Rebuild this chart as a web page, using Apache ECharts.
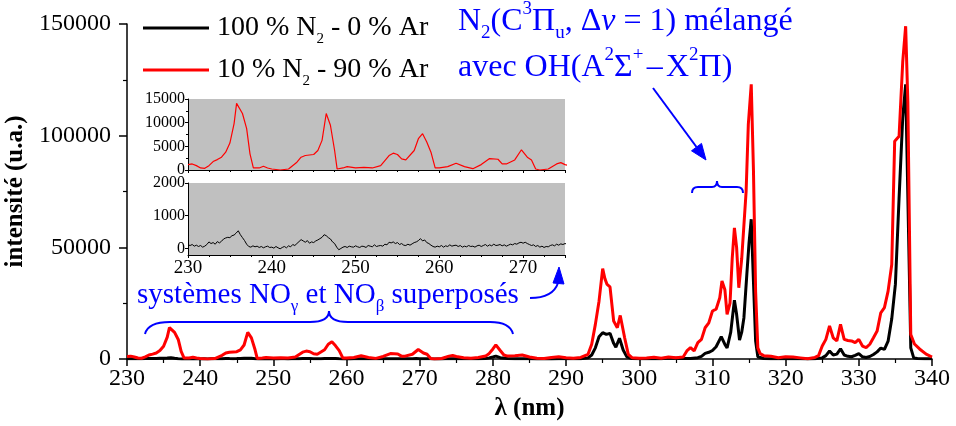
<!DOCTYPE html>
<html>
<head>
<meta charset="utf-8">
<script src="https://cdn.jsdelivr.net/npm/echarts@6/dist/echarts.min.js"></script>
<style>
  html, body { margin: 0; padding: 0; background: #ffffff; }
  #chart { width: 956px; height: 426px; }
</style>
</head>
<body>
<div id="chart"></div>
<script>
// Emission spectra of the discharge, 230–340 nm
const seriesNames = ['100 % N2 - 0 % Ar', '10 % N2 - 90 % Ar'];

// 100 % N2: noisy NO band region, sampled every 0.25 nm from 230 nm
const n2NoiseStart = 230;
const n2NoiseStep = 0.25;
const n2NoiseInt = [
  110, 90, 120, 70, 100, 60, 90, 40, 70, 120, 200, 150, 180, 130, 210, 170,
  220, 290, 320, 340, 330, 390, 410, 470, 540, 420, 330, 240, 130, 60, 40, 80,
  50, 70, 30, 60, 20, 50, 70, 30, 40, 10, 60, 20, -10, 30, 60, 20,
  80, 50, 120, 90, 150, 210, 270, 230, 190, 240, 160, 200, 180, 230, 260, 300,
  340, 420, 390, 330, 290, 200, 150, 40, -40, 0, 40, 60, 30, 70, 50, 40,
  80, 50, 30, 70, 60, 30, 90, 70, 50, 110, 60, 80, 90, 70, 130, 110,
  190, 170, 200, 150, 180, 120, 150, 100, 90, 130, 100, 140, 180, 200, 240, 300,
  230, 260, 180, 150, 100, 60, 40, 70, 50, 90, 40, 80, 60, 110, 70, 90,
  100, 60, 90, 40, 70, 50, 90, 60, 70, 40, 80, 100, 60, 90, 120, 70,
  110, 80, 130, 90, 100, 120, 80, 110, 70, 100, 130, 110, 150, 130, 170, 190,
  160, 190, 150, 120, 90, 110, 60, 90, 40, 70, 30, 60, 50, 90, 110, 80,
  130, 100, 140, 120, 150
];

// 100 % N2: 275.5–340 nm
const n2Wl = [
  276, 277, 278, 279, 279.5, 280, 280.4, 281, 282, 283, 284, 285, 286, 287, 288, 289,
  290, 291, 292, 293, 293.5, 294, 294.5, 295, 295.5, 296, 296.5, 296.8, 297.3, 297.8, 298.3, 299,
  300, 301, 302, 303, 304, 305, 306, 307, 308, 308.5, 309, 309.5, 310, 310.5, 311.2, 311.7,
  312, 312.5, 313, 313.3, 313.7, 314, 314.3, 314.7, 315, 315.3, 315.6, 315.9, 316.2, 317,
  318, 319, 320, 321, 322, 323, 324, 325, 325.5, 326, 326.5, 327, 327.5, 328, 328.5, 329,
  329.5, 330, 330.5, 331, 331.5, 332, 332.5, 333, 333.5, 334, 334.5, 335, 335.5, 336, 336.4, 336.8,
  337.1, 337.5, 338, 339, 340
];
const n2Int = [
  80, 60, 100, 200, 500, 900, 1300, 600, 200, 100, 150, 100, 50, 50, 50, 80,
  100, 80, 150, 500, 1800, 5000, 10000, 11800, 11000, 11500, 7000, 5300, 9300, 4000, 1000, 200,
  100, 100, 80, 100, 400, 300, 200, 200, 600, 1200, 2500, 3000, 3800, 5500, 10000, 6500,
  5000, 12000, 26300, 20000, 8500, 12000, 18500, 38000, 52000, 62600, 35000, 8000, 1000, 200,
  100, 150, 200, 150, 100, 50, 100, 500, 1500, 3600, 1800, 2200, 4600, 1800, 1200, 1000,
  1600, 2400, 1000, 700, 1100, 2000, 3200, 4900, 4300, 8000, 18000, 33500, 72000, 108000, 123000, 56000,
  5000, 500, 200, 100, 100
];

// 10 % N2 - 90 % Ar
const arWl = [
  230, 230.5, 231, 231.5, 232, 232.5, 233, 233.5, 234, 234.5, 235, 235.5, 235.8, 236, 236.5, 237,
  237.4, 237.8, 238.5, 239, 239.5, 240, 241, 242, 243, 243.5, 244, 245, 245.5, 246, 246.5, 246.7,
  247, 247.5, 247.8, 248, 248.5, 249, 250, 251, 252, 253, 254, 254.5, 255, 255.5, 256, 257,
  257.5, 258, 258.5, 259, 259.5, 260, 261, 262, 263, 264, 265, 266, 267, 267.5, 268, 269,
  269.8, 270.5, 271, 271.5, 272, 273, 274, 274.5, 275, 276, 277, 278, 279, 279.5, 280, 280.4,
  281, 281.5, 282, 283, 284, 285, 286, 287, 288, 289, 290, 291, 292, 293, 293.5, 294,
  294.5, 295, 295.3, 295.6, 296, 296.5, 297, 297.4, 298, 298.5, 299, 300, 301, 302, 303, 304,
  305, 306, 306.5, 307, 307.5, 308, 308.5, 309, 309.5, 310, 310.5, 311, 311.3, 311.7, 312, 312.4,
  312.7, 313, 313.3, 313.6, 314, 314.3, 314.6, 314.9, 315.3, 315.6, 315.9, 316.2, 316.5, 317, 318, 319,
  320, 321, 322, 323, 324, 324.5, 325, 325.5, 326, 326.5, 327, 327.5, 328, 328.5, 329, 329.5,
  330, 330.5, 331, 331.5, 332, 332.5, 333, 333.5, 334, 334.5, 334.9, 335.5, 336, 336.4, 336.7, 337.1,
  337.6, 338.3, 339.2, 340
];
const arInt = [
  1140, 1280, 920, 430, 355, 920, 1780, 2200, 2700, 3770, 5690, 9810, 14080, 14290, 11940, 8740,
  3410, 430, 430, 780, 430, 210, 0, 210, 1640, 2700, 3060, 3270, 4120, 6260, 11940, 11940,
  9450, 4120, 210, 0, 430, 710, 430, 570, 430, 920, 3060, 3550, 3270, 2350, 2130, 4120,
  6610, 7680, 5900, 3770, 430, 430, 710, 1420, 710, 280, 1140, 2420, 2270, 1280, 1280, 2130,
  4270, 2700, 2130, 210, 0, 210, 1280, 1560, 1140, 600, 300, 700, 1300, 2500, 4500, 6300,
  3800, 1800, 1300, 1500, 1800, 900, 300, 200, 700, 1000, 600, 300, 700, 2100, 6600, 15500,
  25900, 40500, 36000, 33400, 32300, 17000, 14000, 19500, 9500, 2100, 600, 300, 400, 800, 300, 900,
  600, 900, 3600, 5100, 3600, 7300, 8800, 14000, 16200, 21500, 22300, 27400, 34900, 31000, 20000, 25000,
  45000, 58700, 50000, 31900, 45000, 60000, 75000, 105000, 123000, 85000, 30000, 5000, 2500, 1500, 1200, 600,
  1000, 900, 500, 100, 700, 1500, 5800, 8800, 14800, 9500, 8100, 15500, 8800, 8300, 8100, 7300,
  8800, 5800, 5100, 6600, 9500, 12500, 20700, 23000, 30400, 42300, 97500, 99700, 133000, 149000, 115000, 11000,
  6700, 4500, 2200, 900
];

// Axis ticks
const mainXTicks = { min: 230, max: 340, step: 10 };
const mainYTicks = { min: 0, max: 150000, step: 50000 };
const insetXTicks = { min: 230, max: 275, step: 10 };
const insetArTicks = { min: 0, max: 15000, step: 5000 };
const insetN2Labels = [0, 1000, 2000];

// ---- build [x, y] pairs ----
const n2Data = n2NoiseInt.map((v, i) => [n2NoiseStart + i * n2NoiseStep, v])
  .concat(n2Wl.map((w, i) => [w, n2Int[i]]));
const arData = arWl.map((w, i) => [w, arInt[i]]);

const FONT = 'Liberation Serif';
const BLUE = '#0000ff';
const black = '#000000';
const plain = v => String(v);

function axisCommon(fontSize, tickLen, minorLen, margin) {
  return {
    axisLine: { show: true, onZero: false, lineStyle: { color: black, width: 1.5 } },
    axisTick: { show: true, length: tickLen, lineStyle: { color: black, width: 1.5 } },
    minorTick: { show: true, length: minorLen, lineStyle: { color: black, width: 1.2 } },
    splitLine: { show: false },
    minorSplitLine: { show: false },
    axisLabel: { color: black, fontFamily: FONT, fontSize: fontSize, margin: margin, formatter: plain }
  };
}

const chart = echarts.init(document.getElementById('chart'), null, { renderer: 'canvas' });

const xMain = Object.assign(axisCommon(24, 7, 4, 8), {
  gridIndex: 0, type: 'value', min: mainXTicks.min, max: mainXTicks.max, interval: mainXTicks.step,
  name: 'λ (nm)', nameLocation: 'middle', nameGap: 36,
  nameTextStyle: { fontFamily: FONT, fontWeight: 'bold', fontSize: 25, color: black }
});
xMain.minorTick.splitNumber = 2;

const yMain = Object.assign(axisCommon(24, 8, 4, 16), {
  gridIndex: 0, type: 'value', min: mainYTicks.min, max: mainYTicks.max, interval: mainYTicks.step,
  name: 'intensité (u.a.)', nameLocation: 'middle', nameGap: 92,
  nameTextStyle: { fontFamily: FONT, fontWeight: 'bold', fontSize: 25, color: black }
});
yMain.minorTick.splitNumber = 2;

function thin(axis) {
  axis.axisLine.lineStyle.width = 1;
  axis.axisTick.lineStyle.width = 1;
  axis.minorTick.lineStyle.width = 1;
  return axis;
}

const xInsetTop = thin(Object.assign(axisCommon(19, 3, 2, 4), {
  gridIndex: 1, type: 'value', min: insetXTicks.min, max: insetXTicks.max, interval: insetXTicks.step
}));
xInsetTop.axisLabel.show = false;
xInsetTop.minorTick.splitNumber = 4;

const xInsetBottom = thin(Object.assign(axisCommon(19, 3, 2, 4), {
  gridIndex: 2, type: 'value', min: insetXTicks.min, max: insetXTicks.max, interval: insetXTicks.step
}));
xInsetBottom.axisLabel.showMaxLabel = false;
xInsetBottom.minorTick.splitNumber = 4;

const yInsetTop = thin(Object.assign(axisCommon(16, 3, 2, 3), {
  gridIndex: 1, type: 'value', min: insetArTicks.min, max: insetArTicks.max, interval: insetArTicks.step
}));
yInsetTop.minorTick.splitNumber = 2;

const yInsetBottom = thin(Object.assign(axisCommon(16, 3, 2, 3), {
  gridIndex: 2, type: 'value', min: -200, max: 2000
}));
yInsetBottom.axisLabel.customValues = insetN2Labels;
yInsetBottom.axisTick.customValues = insetN2Labels;
yInsetBottom.minorTick.show = false;

// annotation text styles (rich)
function richBlue(size) {
  const small = Math.round(size * 0.6);
  return {
    sub: { fontFamily: FONT, fontSize: small, lineHeight: small, verticalAlign: 'bottom', fill: BLUE },
    sup: { fontFamily: FONT, fontSize: small, lineHeight: small, verticalAlign: 'top', fill: BLUE },
    it: { fontFamily: FONT, fontSize: size, fontStyle: 'italic', fill: BLUE },
    sp: { fontFamily: FONT, fontSize: Math.round(size * 0.4), fill: BLUE }
  };
}

function blueText(x, y, text, size) {
  return {
    type: 'text', left: x, top: y, z: 100,
    style: {
      text: text, fill: BLUE, fontFamily: FONT, fontSize: size, lineHeight: Math.round(size * 1.35),
      rich: richBlue(size)
    }
  };
}
function blueLine(x1, y1, x2, y2) {
  return { type: 'line', z: 100, shape: { x1, y1, x2, y2 }, style: { stroke: BLUE, lineWidth: 2 } };
}
function blueCurve(x1, y1, cx, cy, x2, y2) {
  return { type: 'bezierCurve', z: 100, shape: { x1, y1, cpx1: cx, cpy1: cy, x2, y2 },
           style: { stroke: BLUE, lineWidth: 2, fill: null } };
}
function blueTriangle(points) {
  return { type: 'polygon', z: 100, shape: { points }, style: { fill: BLUE, stroke: BLUE, lineWidth: 1 } };
}

const option = {
  animation: false,
  backgroundColor: '#ffffff',
  grid: [
    { left: 127, right: 24, top: 24, bottom: 67, outerBoundsMode: 'none', containLabel: false },
    { left: 188, right: 391, top: 99, height: 71, show: true, backgroundColor: '#c0c0c0', borderWidth: 0,
      outerBoundsMode: 'none', containLabel: false },
    { left: 188, right: 391, top: 183, height: 72, show: true, backgroundColor: '#c0c0c0', borderWidth: 0,
      outerBoundsMode: 'none', containLabel: false }
  ],
  xAxis: [xMain, xInsetTop, xInsetBottom],
  yAxis: [yMain, yInsetTop, yInsetBottom],
  legend: {
    data: seriesNames,
    orient: 'vertical',
    left: 143, top: 9, padding: 0,
    itemWidth: 66, itemHeight: 3, itemGap: 4,
    icon: 'rect',
    selectedMode: false,
    formatter: name => name.replace('N2', 'N{sub|2}'),
    textStyle: {
      fontFamily: FONT, fontSize: 28, color: black, lineHeight: 38, padding: [0, 0, 0, 3],
      rich: {
        sub: { fontFamily: FONT, fontSize: 15, lineHeight: 15, verticalAlign: 'bottom', color: black }
      }
    }
  },
  series: [
    {
      name: seriesNames[0], type: 'line', xAxisIndex: 0, yAxisIndex: 0, data: n2Data,
      showSymbol: false, symbol: 'none', color: black,
      lineStyle: { color: black, width: 3 }, z: 2
    },
    {
      name: seriesNames[1], type: 'line', xAxisIndex: 0, yAxisIndex: 0, data: arData,
      showSymbol: false, symbol: 'none', color: '#ff0000',
      lineStyle: { color: '#ff0000', width: 3 }, z: 3
    },
    {
      name: 'inset Ar', type: 'line', xAxisIndex: 1, yAxisIndex: 1, data: arData,
      showSymbol: false, symbol: 'none', color: '#ff0000',
      lineStyle: { color: '#ff0000', width: 1.2 }, z: 5
    },
    {
      name: 'inset N2', type: 'line', xAxisIndex: 2, yAxisIndex: 2, data: n2Data,
      showSymbol: false, symbol: 'none', color: black,
      lineStyle: { color: black, width: 1 }, z: 5
    }
  ],
  graphic: [
    // N2 / OH band label
    blueText(458, 0, 'N{sub|2}(C{sup|3}Π{sub|u}, Δ{it|v} = 1) mélangé', 32),
    blueText(458, 46, 'avec OH(A{sup|2}Σ{sup|+}{sp| }–{sp| }X{sup|2}Π)', 32),
    blueLine(653, 88, 696.5, 147),
    blueTriangle([[706, 160], [691.5, 150.8], [701.5, 143.4]]),
    // small brace over the 307–314 nm bands
    blueCurve(692, 193, 692, 187, 698, 187),
    blueLine(698, 187, 712, 187),
    blueCurve(712, 187, 717, 187, 717, 181),
    blueCurve(717, 181, 717, 187, 722, 187),
    blueLine(722, 187, 737, 187),
    blueCurve(737, 187, 743, 187, 743, 193),
    // NO systems label and brace
    blueText(137, 276, 'systèmes NO{sub|γ} et NO{sub|β} superposés', 29),
    blueCurve(145, 334, 148, 322, 170, 322),
    blueLine(170, 322, 310, 322),
    blueCurve(310, 322, 329, 322, 329, 311),
    blueCurve(329, 311, 329, 322, 348, 322),
    blueLine(348, 322, 490, 322),
    blueCurve(490, 322, 510, 322, 513, 334),
    // curved arrow towards the inset
    blueCurve(530, 298, 553, 298, 558, 283),
    blueTriangle([[559, 267], [553, 283], [564, 284]])
  ]
};

chart.setOption(option);
</script>
</body>
</html>
